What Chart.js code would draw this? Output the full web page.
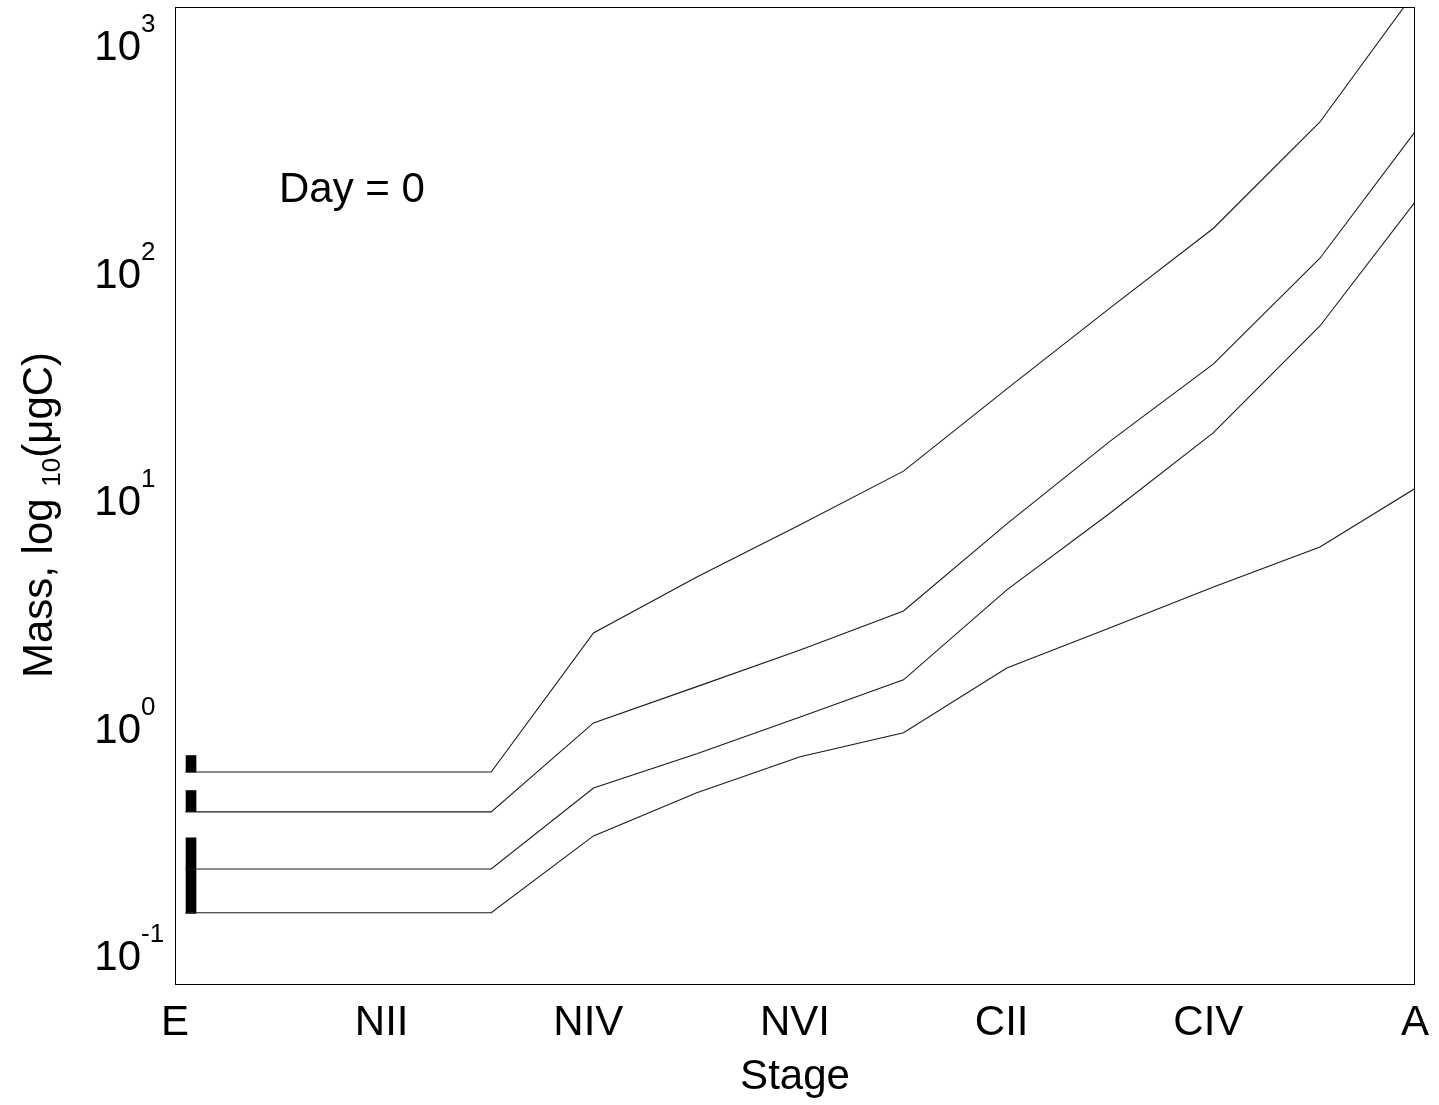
<!DOCTYPE html>
<html>
<head>
<meta charset="utf-8">
<script src="https://cdn.jsdelivr.net/npm/chart.js@4.4.1/dist/chart.umd.min.js"></script>
<style>
  html, body { margin: 0; padding: 0; background: #fff; }
  #wrap { width: 1439px; height: 1105px; position: relative; }
</style>
</head>
<body>
<div id="wrap"><canvas id="myChart"></canvas></div>
<script>
// stages of development, x axis is stage index (E = 0 ... A = 12)
const stages = ['E', 'NI', 'NII', 'NIII', 'NIV', 'NV', 'NVI', 'CI', 'CII', 'CIII', 'CIV', 'CV', 'A'];
const xTicks = [0, 2, 4, 6, 8, 10, 12];
const yTicks = [0.1, 1, 10, 100, 1000];

// x position of each sample along the mass curves
const stagePos = [0.1, 3.06, 4.05, 5.05, 6.05, 7.05, 8.05, 9.05, 10.05, 11.08, 12];
// mass (ugC) of the four cohorts
const mass1 = [0.590, 0.590, 2.41, 4.25, 7.20, 12.4, 28.5, 64.7, 145, 425, 1585];
const mass2 = [0.394, 0.394, 0.970, 1.40, 2.03, 3.01, 7.27, 16.8, 36.7, 107, 385];
const mass3 = [0.221, 0.221, 0.502, 0.709, 1.03, 1.50, 3.73, 8.12, 18.3, 53.9, 189];
const mass4 = [0.142, 0.142, 0.309, 0.478, 0.688, 0.877, 1.69, 2.54, 3.84, 5.76, 10.4];

// egg cohorts shown as bars at stage E
const eggPos = [0.155, 0.155, 0.155];
const eggLow = [0.589, 0.395, 0.141];
const eggHigh = [0.697, 0.489, 0.303];

const dayText = 'Day = 0';
const FONT = "'Liberation Sans', Arial, Helvetica, sans-serif";

function curve(vals) {
    return {
        type: 'line',
        data: stagePos.map((x, i) => ({ x: x, y: vals[i] })),
        borderColor: '#1a1a1a',
        borderWidth: 1.1,
        pointRadius: 0,
        tension: 0,
        fill: false
    };
}

const decorations = {
    id: 'decorations',
    afterDraw(chart) {
        const ctx = chart.ctx;
        const a = chart.chartArea;
        const y = chart.scales.y;
        ctx.save();
        // box
        ctx.strokeStyle = '#000';
        ctx.lineWidth = 1;
        ctx.strokeRect(a.left + 0.5, a.top + 0.5, a.right - a.left - 1, a.bottom - a.top);

        ctx.fillStyle = '#000';
        // y tick labels 10^n
        yTicks.forEach(v => {
            const py = y.getPixelForValue(v);
            const exp = Math.round(Math.log10(v));
            ctx.font = '42px ' + FONT;
            ctx.textAlign = 'right';
            ctx.textBaseline = 'alphabetic';
            ctx.fillText('10', 141, py + 23);
            ctx.font = '26px ' + FONT;
            ctx.textAlign = 'left';
            ctx.fillText(String(exp), 141, py - 5);
        });

        // y axis title with subscript
        const parts = [
            { t: 'Mass, log ', size: 42, dy: 0 },
            { t: '10', size: 26, dy: 8 },
            { t: '(\u03bcgC)', size: 42, dy: 0 }
        ];
        let total = 0;
        parts.forEach(p => { ctx.font = p.size + 'px ' + FONT; p.w = ctx.measureText(p.t).width; total += p.w; });
        ctx.translate(52, 515);
        ctx.rotate(-Math.PI / 2);
        let cx = -total / 2;
        ctx.textAlign = 'left';
        parts.forEach(p => {
            ctx.font = p.size + 'px ' + FONT;
            ctx.fillText(p.t, cx, p.dy);
            cx += p.w;
        });
        ctx.setTransform(1, 0, 0, 1, 0, 0);

        // annotation
        ctx.font = '42px ' + FONT;
        ctx.textAlign = 'left';
        ctx.fillText(dayText, 279, 202);
        ctx.restore();
    }
};

const ctx = document.getElementById('myChart');
const myChart = new Chart(ctx, {
    type: 'line',
    data: {
        datasets: [
            curve(mass1),
            curve(mass2),
            curve(mass3),
            curve(mass4),
            {
                type: 'bar',
                data: eggPos.map((x, i) => ({ x: x, y: [eggLow[i], eggHigh[i]] })),
                backgroundColor: '#000',
                borderWidth: 0,
                barThickness: 10
            }
        ]
    },
    options: {
        responsive: true,
        maintainAspectRatio: false,
        animation: false,
        layout: { padding: { left: 0, top: 7, right: 24, bottom: 0 } },
        plugins: { legend: { display: false }, tooltip: { enabled: false } },
        scales: {
            x: {
                type: 'linear',
                min: 0,
                max: 12,
                offset: false,
                grid: { display: false, drawTicks: false },
                border: { display: false },
                afterBuildTicks: s => { s.ticks = xTicks.map(v => ({ value: v })); },
                afterFit: s => { s.height = 121; s.paddingLeft = 0; s.paddingRight = 0; },
                ticks: {
                    autoSkip: false,
                    maxRotation: 0,
                    padding: 14,
                    color: '#000',
                    font: { family: FONT, size: 42 },
                    callback: v => stages[v]
                },
                title: {
                    display: true,
                    text: 'Stage',
                    color: '#000',
                    font: { family: FONT, size: 42 },
                    padding: { top: 0, bottom: 2 }
                }
            },
            y: {
                type: 'logarithmic',
                min: 0.069,
                max: 1361,
                grid: { display: false, drawTicks: false },
                border: { display: false },
                afterBuildTicks: s => { s.ticks = yTicks.map(v => ({ value: v })); },
                afterFit: s => { s.width = 175; },
                ticks: { display: false }
            }
        }
    },
    plugins: [decorations]
});
</script>
</body>
</html>
